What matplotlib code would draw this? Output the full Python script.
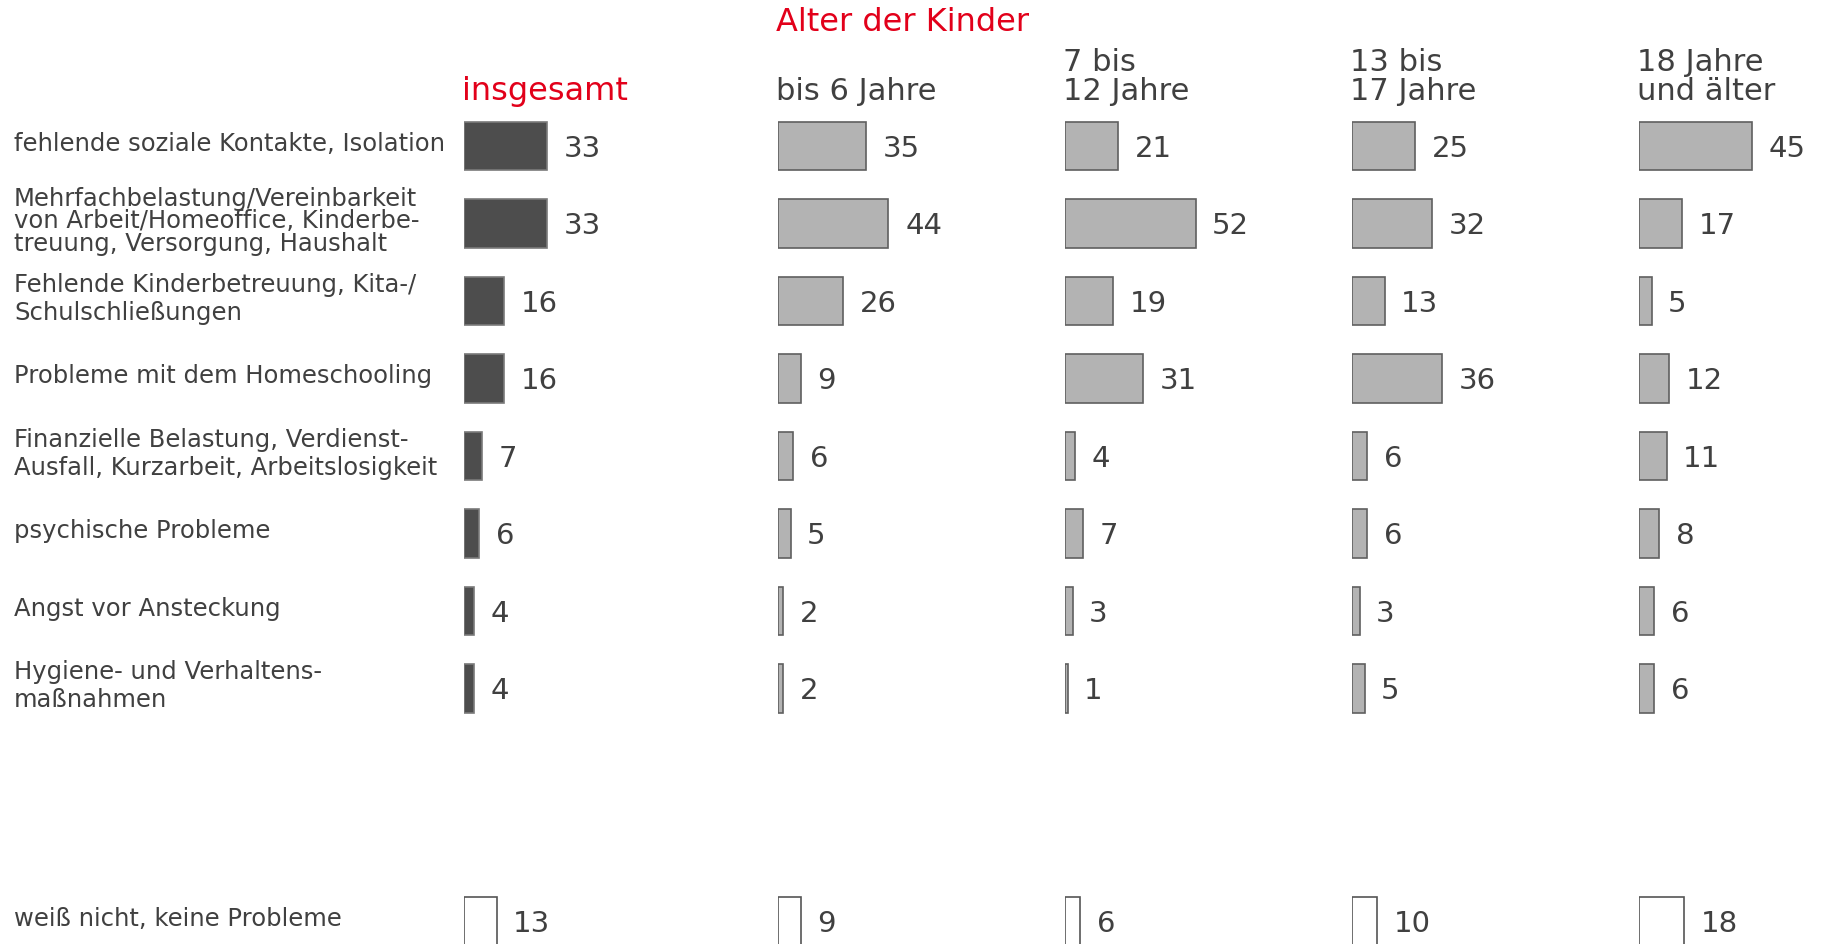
import matplotlib.pyplot as plt
from matplotlib.transforms import blended_transform_factory

plt.rcParams['font.family'] = ['DejaVu Sans']

# Daten (Prozent)
categories = [
    'fehlende soziale Kontakte, Isolation',
    'Mehrfachbelastung/Vereinbarkeit\nvon Arbeit/Homeoffice, Kinderbe-\ntreuung, Versorgung, Haushalt',
    'Fehlende Kinderbetreuung, Kita-/\nSchulschließungen',
    'Probleme mit dem Homeschooling',
    'Finanzielle Belastung, Verdienst-\nAusfall, Kurzarbeit, Arbeitslosigkeit',
    'psychische Probleme',
    'Angst vor Ansteckung',
    'Hygiene- und Verhaltens-\nmaßnahmen',
    'weiß nicht, keine Probleme',
]
headers = ['insgesamt', 'bis 6 Jahre', '7 bis\n12 Jahre', '13 bis\n17 Jahre', '18 Jahre\nund älter']
insgesamt = [33, 33, 16, 16, 7, 6, 4, 4, 13]
bis_6 = [35, 44, 26, 9, 6, 5, 2, 2, 9]
j_7_12 = [21, 52, 19, 31, 4, 7, 3, 1, 6]
j_13_17 = [25, 32, 13, 36, 6, 6, 3, 5, 10]
j_18_plus = [45, 17, 5, 12, 11, 8, 6, 6, 18]
series = [insgesamt, bis_6, j_7_12, j_13_17, j_18_plus]
title = 'Alter der Kinder'

W, H = 1821, 944
RED = '#e2001a'
TXT = '#404040'

rows = list(range(8)) + [10]
row0_px, row_step = 146, 77.5     # Mitte der ersten Zeile, Zeilenabstand (px)
px_per_unit = 2.51
col_x = [464, 778, 1065, 1352, 1639]
col_w = 260

fig = plt.figure(figsize=(W / 100, H / 100), dpi=100)

y_top = -row0_px / row_step
y_bot = (H - row0_px) / row_step

axes = []
for i, (x, vals) in enumerate(zip(col_x, series)):
    ax = fig.add_axes([x / W, 0, col_w / W, 1])
    ax.set_xlim(0, col_w / px_per_unit)
    ax.set_ylim(y_bot, y_top)
    ax.axis('off')
    for k, (r, v) in enumerate(zip(rows, vals)):
        if k == len(vals) - 1:
            fc, ec = 'white', '#555555'
        elif i == 0:
            fc, ec = '#4d4d4d', '#7a7a7a'
        else:
            fc, ec = '#b3b3b3', '#5f5f5f'
        ax.barh(r, v, height=0.63, left=0, color=fc, edgecolor=ec, linewidth=1.2)
        ax.annotate(str(v), (v, r), xytext=(12, -2), textcoords='offset points',
                    va='center', ha='left', fontsize=21, color=TXT)
    axes.append(ax)

# Zeilenbeschriftungen
ax0 = axes[0]
tr = blended_transform_factory(fig.transFigure, ax0.transData)
for r, lab in zip(rows, categories):
    ls = 0.92 if lab.count('\n') > 1 else 1.2
    ax0.text(14 / W, r - 0.03, lab, transform=tr, ha='left', va='center',
             fontsize=17.5, color=TXT, linespacing=ls, clip_on=False)

# Spaltenköpfe
for i, (x, h) in enumerate(zip(col_x, headers)):
    lines = h.split('\n')
    color = RED if i == 0 else TXT
    size = 23 if i == 0 else 22
    for j, line in enumerate(reversed(lines)):
        fig.text((x - 2) / W, 1 - (100 - 29 * j) / H, line, ha='left', va='baseline',
                 fontsize=size, color=color)

fig.text(776 / W, 1 - 31 / H, title, ha='left', va='baseline', fontsize=23, color=RED)

fig.savefig('out.png', dpi=100)
